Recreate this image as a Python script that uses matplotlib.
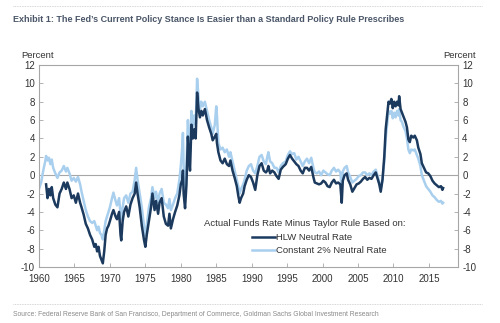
import numpy as np
import matplotlib
matplotlib.use("Agg")
import matplotlib.pyplot as plt
from matplotlib.lines import Line2D

nan = np.nan
years = [1960.0, 1960.3, 1960.6, 1960.9, 1961.0, 1961.2, 1961.4, 1961.6, 1961.8, 1962.0, 1962.3, 1962.6, 1962.9,
         1963.2, 1963.5, 1963.8, 1964.0, 1964.3, 1964.6, 1964.9, 1965.2, 1965.5, 1965.8, 1966.0, 1966.3, 1966.6,
         1966.9, 1967.2, 1967.5, 1967.8, 1968.0, 1968.2, 1968.4, 1968.6, 1968.8, 1969.0, 1969.2, 1969.4, 1969.6,
         1969.8, 1970.0, 1970.3, 1970.5, 1970.8, 1971.0, 1971.3, 1971.5, 1971.6, 1971.8, 1972.0, 1972.3, 1972.6,
         1972.9, 1973.2, 1973.5, 1973.7, 1973.9, 1974.2, 1974.5, 1974.8, 1975.0, 1975.2, 1975.5, 1975.8, 1976.0,
         1976.3, 1976.5, 1976.8, 1977.0, 1977.3, 1977.6, 1977.9, 1978.2, 1978.4, 1978.6, 1978.9, 1979.2, 1979.5,
         1979.8, 1980.0, 1980.2, 1980.3, 1980.4, 1980.6, 1980.8, 1981.0, 1981.2, 1981.3, 1981.5, 1981.7, 1981.9,
         1982.1, 1982.3, 1982.5, 1982.7, 1982.9, 1983.1, 1983.4, 1983.7, 1984.0, 1984.3, 1984.5, 1984.8, 1985.0,
         1985.1, 1985.3, 1985.6, 1985.9, 1986.2, 1986.5, 1986.8, 1987.0, 1987.3, 1987.6, 1987.9, 1988.1, 1988.3,
         1988.5, 1988.8, 1989.0, 1989.3, 1989.6, 1989.9, 1990.2, 1990.5, 1990.8, 1991.1, 1991.4, 1991.7, 1992.0,
         1992.2, 1992.35, 1992.6, 1992.9, 1993.2, 1993.5, 1993.8, 1994.1, 1994.4, 1994.8, 1995.1, 1995.4, 1995.7,
         1996.0, 1996.3, 1996.6, 1996.9, 1997.2, 1997.5, 1997.8, 1998.1, 1998.4, 1998.7, 1998.9, 1999.2, 1999.5,
         1999.8, 2000.1, 2000.4, 2000.7, 2001.0, 2001.3, 2001.6, 2001.9, 2002.2, 2002.5, 2002.7, 2002.85, 2003.1,
         2003.4, 2003.6, 2003.9, 2004.2, 2004.5, 2004.8, 2005.1, 2005.4, 2005.7, 2006.0, 2006.3, 2006.6, 2006.9,
         2007.2, 2007.5, 2007.8, 2008.0, 2008.2, 2008.45, 2008.7, 2008.9, 2009.1, 2009.3, 2009.5, 2009.7, 2009.9,
         2010.1, 2010.3, 2010.5, 2010.7, 2010.8, 2011.0, 2011.2, 2011.4, 2011.7, 2011.9, 2012.1, 2012.3, 2012.5,
         2012.8, 2013.0, 2013.3, 2013.5, 2013.8, 2014.0, 2014.3, 2014.6, 2014.9, 2015.2, 2015.5, 2015.8, 2016.1,
         2016.4, 2016.7, 2016.9, 2017.0]

constant_2pct = [-1.5, -0.8, 0.5, 1.6, 2.1, 1.6, 1.9, 1.2, 1.7, 0.8, 0.2, -0.3, 0.3,
                 0.5, 1.0, 0.4, 0.8, 0.2, -0.6, -0.3, -0.7, -0.2, -1.0, -1.8, -2.8, -3.8,
                 -4.5, -5.0, -5.2, -5.0, -5.5, -6.0, -5.6, -6.3, -6.5, -7.0, -6.0, -5.0, -4.5,
                 -4.0, -3.5, -2.5, -1.9, -2.8, -3.3, -2.5, -4.2, -4.8, -3.5, -2.5, -2.2, -3.0,
                 -2.0, -1.8, -0.5, 0.8, -0.5, -2.0, -3.5, -5.5, -6.6, -5.5, -3.5, -2.5, -1.3,
                 -2.5, -1.8, -3.0, -2.0, -1.5, -3.0, -3.2, -3.6, -2.6, -3.8, -3.2, -2.5, -2.0,
                 -0.5, 1.0, 3.0, 4.6, 1.0, -1.5, 1.0, 6.0, 3.0, 2.5, 7.0, 5.0, 6.5,
                 5.5, 10.5, 8.5, 7.2, 8.0, 7.5, 8.0, 7.0, 6.0, 5.2, 4.5, 5.5, 7.5,
                 6.5, 3.5, 2.8, 3.0, 2.5, 2.8, 2.0, 2.5, 1.5, 0.5, -0.5, -1.2, -2.0,
                 -1.5, -1.0, -0.5, 0.5, 1.0, 1.2, 0.5, 0.2, 1.0, 2.0, 2.2, 1.5, 1.2,
                 2.0, 2.5, 1.5, 1.3, 0.8, 0.8, 0.3, 1.0, 1.3, 1.5, 2.2, 2.6, 2.3,
                 2.4, 1.7, 2.0, 1.5, 1.0, 1.5, 1.8, 1.3, 1.9, 0.8, 0.3, 0.2, 0.4,
                 0.0, 0.5, 0.3, 0.1, 0.0, 0.5, 0.8, 0.4, 0.6, 0.3, -1.5, 0.4, 0.8,
                 1.0, 0.3, -0.2, -0.8, -0.6, -0.4, -0.1, 0.0, 0.3, 0.3, 0.0, 0.2, 0.0,
                 0.4, 0.6, -0.2, -0.8, -1.5, -0.5, 1.5, 4.0, 5.5, 7.0, 6.7, 7.0, 6.2,
                 6.8, 6.3, 7.0, 6.5, 7.2, 6.0, 5.8, 5.3, 4.8, 4.0, 2.8, 2.4, 2.8,
                 2.7, 2.8, 2.2, 1.8, 1.0, 0.0, -0.6, -1.2, -1.5, -1.8, -2.2, -2.4, -2.7,
                 -2.9, -2.8, -3.1, -3.0]

hlw = [nan, nan, nan, nan, -1.0, -2.5, -1.5, -2.2, -1.3, -2.5, -3.2, -3.5, -2.0,
       -1.5, -0.8, -1.5, -0.8, -1.5, -2.5, -2.2, -3.0, -2.0, -3.0, -3.5, -4.3, -5.3,
       -5.8, -6.5, -7.0, -7.8, -7.5, -8.3, -7.8, -8.8, -9.2, -9.6, -8.3, -6.5, -5.8,
       -5.5, -5.0, -4.2, -3.8, -4.5, -4.8, -4.0, -6.5, -7.1, -5.0, -4.0, -3.4, -4.5,
       -3.2, -2.5, -2.0, -0.8, -2.0, -3.5, -5.5, -7.0, -7.8, -6.5, -5.0, -3.5, -2.0,
       -3.8, -2.8, -4.2, -3.0, -2.5, -4.5, -5.3, -5.5, -4.2, -5.8, -4.8, -4.0, -3.3,
       -2.2, -1.0, -0.5, 0.5, -2.0, -3.6, -1.0, 4.2, 1.5, 0.5, 5.5, 4.0, 5.0,
       4.0, 9.0, 7.2, 6.3, 7.0, 6.5, 7.2, 6.0, 5.2, 4.5, 3.8, 4.2, 4.5,
       3.5, 2.5, 1.6, 1.3, 1.8, 1.2, 1.0, 1.6, 0.5, -0.3, -1.2, -2.2, -3.0,
       -2.5, -2.0, -1.2, -0.5, 0.0, -0.2, -0.8, -1.6, 0.0, 1.0, 1.3, 0.5, 0.3,
       0.5, 1.0, 0.2, 0.5, 0.3, -0.1, -0.4, 0.6, 0.9, 1.2, 1.8, 2.2, 1.8,
       1.5, 1.2, 1.0, 0.5, 0.2, 0.8, 0.8, 0.5, 0.9, -0.2, -0.8, -0.9, -1.0,
       -0.9, -0.6, -0.8, -1.2, -1.3, -0.8, -0.5, -0.9, -0.8, -1.0, -3.0, -0.6, 0.0,
       0.2, -0.5, -1.0, -1.8, -1.4, -1.0, -0.9, -0.7, -0.4, -0.2, -0.5, -0.3, -0.4,
       0.0, 0.3, -0.5, -1.0, -1.8, -0.5, 2.0, 5.0, 6.5, 8.0, 7.8, 8.3, 7.3,
       8.0, 7.5, 8.0, 7.6, 8.6, 7.2, 6.8, 6.4, 5.8, 5.2, 3.9, 3.6, 4.3,
       4.1, 4.3, 3.8, 3.0, 2.3, 1.3, 0.8, 0.3, 0.2, -0.1, -0.6, -0.9, -1.1,
       -1.3, -1.2, -1.6, -1.4]

x_ticks = [1960, 1965, 1970, 1975, 1980, 1985, 1990, 1995, 2000, 2005, 2010, 2015]
y_ticks = [-10, -8, -6, -4, -2, 0, 2, 4, 6, 8, 10, 12]

title = "Exhibit 1: The Fed\u2019s Current Policy Stance Is Easier than a Standard Policy Rule Prescribes"
source = "Source: Federal Reserve Bank of San Francisco, Department of Commerce, Goldman Sachs Global Investment Research"
legend_title = "Actual Funds Rate Minus Taylor Rule Based on:"
labels = ["HLW Neutral Rate", "Constant 2% Neutral Rate"]

DARK = "#1b3a5e"
LIGHT = "#a9cfee"
AXC = "#a6a6a6"
TXT = "#333333"

plt.rcParams['font.family'] = ['Liberation Sans', 'DejaVu Sans']
plt.rcParams['axes.unicode_minus'] = False

W, H = 500, 323
fig = plt.figure(figsize=(W / 100, H / 100), dpi=100)
fig.patch.set_facecolor("white")

def fx(px):
    return px / W

def fy(py):
    return 1 - py / H

ax = fig.add_axes([fx(39), fy(267), fx(458) - fx(39), fy(65) - fy(267)])
ax.plot(years, constant_2pct, color=LIGHT, lw=1.8, solid_joinstyle='round')
ax.plot(years, hlw, color=DARK, lw=1.8, solid_joinstyle='round')
ax.axhline(0, color=AXC, lw=0.8, zorder=0)

ax.set_xlim(1960, 2019.1)
ax.set_ylim(-10, 12)
ax.set_xticks(x_ticks)
ax.set_yticks(y_ticks)
ax.tick_params(axis='both', direction='in', length=3, width=0.6, color=AXC,
               labelsize=7, labelcolor=TXT, pad=3)
ax.tick_params(axis='x', pad=5)
ax.tick_params(axis='y', which='both', right=True, labelright=True)
for s in ax.spines.values():
    s.set_color(AXC)
    s.set_linewidth(0.8)

fig.text(fx(21), fy(55), "Percent", fontsize=6.8, color=TXT, va='center', ha='left')
fig.text(fx(476), fy(55), "Percent", fontsize=6.8, color=TXT, va='center', ha='right')

fig.text(fx(204), fy(223), legend_title, fontsize=6.8, color=TXT, va='center', ha='left')
handles = [Line2D([], [], color=DARK, lw=1.8), Line2D([], [], color=LIGHT, lw=1.8)]
leg = fig.legend(handles, labels, loc='upper left', bbox_to_anchor=(fx(252), fy(233)),
                 frameon=False, fontsize=6.8, handlelength=2.4, handletextpad=0.15,
                 labelspacing=0.45, borderaxespad=0, borderpad=0)
for t in leg.get_texts():
    t.set_color(TXT)

fig.text(fx(13), fy(19), title, fontsize=6.5, fontweight='bold', color="#4a5668",
         va='center', ha='left')
fig.text(fx(13), fy(314), source, fontsize=4.85, color="#8a8a8a",
         va='center', ha='left')

fig.add_artist(Line2D([fx(13), fx(482)], [fy(6), fy(6)], color="#c8c8c8", lw=0.6, ls=(0, (1, 1))))
fig.add_artist(Line2D([fx(13), fx(482)], [fy(304), fy(304)], color="#c8c8c8", lw=0.6, ls=(0, (1, 1))))

fig.savefig("out.png", dpi=100, facecolor="white")
